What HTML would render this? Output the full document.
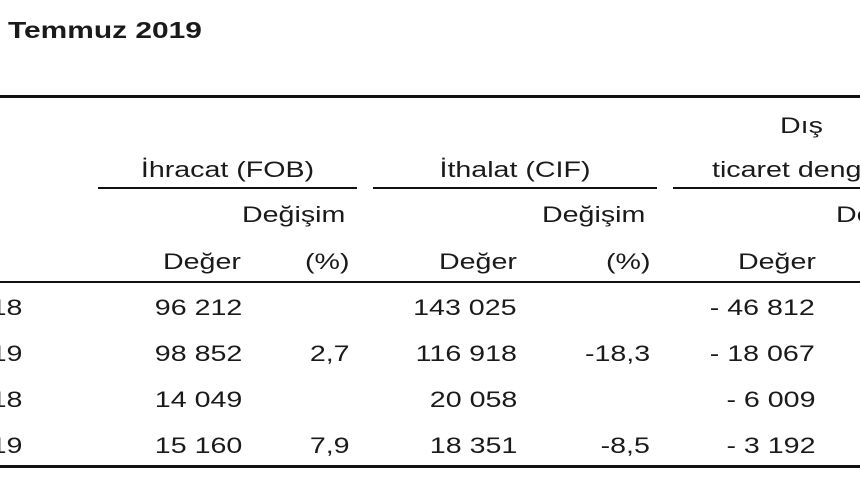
<!DOCTYPE html>
<html><head><meta charset="utf-8"><style>
body{margin:0;width:860px;height:480px;background:#fff;overflow:hidden;position:relative;font-family:"Liberation Sans",Arial,sans-serif;color:#1a1a1a}
.t{position:absolute;font-size:22px;line-height:24px;white-space:nowrap;transform:scaleX(1.3);transform-origin:left center}
.r{text-align:right;transform-origin:right center}
.c{text-align:center;transform-origin:center center}
.ln{position:absolute;background:#111}
</style></head><body>
<div class="t" style="left:8px;top:18px;font-weight:bold;font-size:23px">Temmuz 2019</div>
<div class="ln" style="left:0;top:95px;width:860px;height:3px"></div>

<div class="t" style="left:780px;top:114px">Dış</div>
<div class="t c" style="left:98px;top:158px;width:259px">İhracat (FOB)</div>
<div class="t c" style="left:373px;top:158px;width:284px">İthalat (CIF)</div>
<div class="t" style="left:712px;top:158px">ticaret deng</div>
<div class="ln" style="left:98px;top:187px;width:259px;height:2px"></div>
<div class="ln" style="left:373px;top:187px;width:284px;height:2px"></div>
<div class="ln" style="left:673px;top:187px;width:187px;height:2px"></div>

<div class="t" style="left:242px;top:203px">Değişim</div>
<div class="t" style="left:542px;top:203px">Değişim</div>
<div class="t" style="left:836px;top:203px">De</div>

<div class="t" style="left:163px;top:250px">Değer</div>
<div class="t" style="left:305px;top:250px">(%)</div>
<div class="t" style="left:439px;top:250px">Değer</div>
<div class="t" style="left:606px;top:250px">(%)</div>
<div class="t" style="left:738px;top:250px">Değer</div>
<div class="ln" style="left:0;top:281px;width:860px;height:2px"></div>

<div class="ln" style="left:0;top:465px;width:860px;height:3px"></div>

<script>
const rowLabels=["18","19","18","19"];
const exportVals=["96 212","98 852","14 049","15 160"];
const exportPct=["","2,7","","7,9"];
const importVals=["143 025","116 918","20 058","18 351"];
const importPct=["","-18,3","","-8,5"];
const balanceVals=["- 46 812","- 18 067","- 6 009","- 3 192"];
function cell(txt,right,top,name){
  const d=document.createElement('div');
  d.className='t r';
  d.style.right=(860-right)+'px';
  d.style.top=top+'px';
  d.textContent=txt;
  
  
  document.body.appendChild(d);
}
rowLabels.forEach((l,i)=>{
  const top=296+i*46;
  cell(l,22,top,'row-label');
  cell(exportVals[i],242,top,'export-value');
  cell(exportPct[i],350,top,'export-change');
  cell(importVals[i],517,top,'import-value');
  cell(importPct[i],650,top,'import-change');
  cell(balanceVals[i],815,top,'balance-value');
});
</script>
</body></html>
